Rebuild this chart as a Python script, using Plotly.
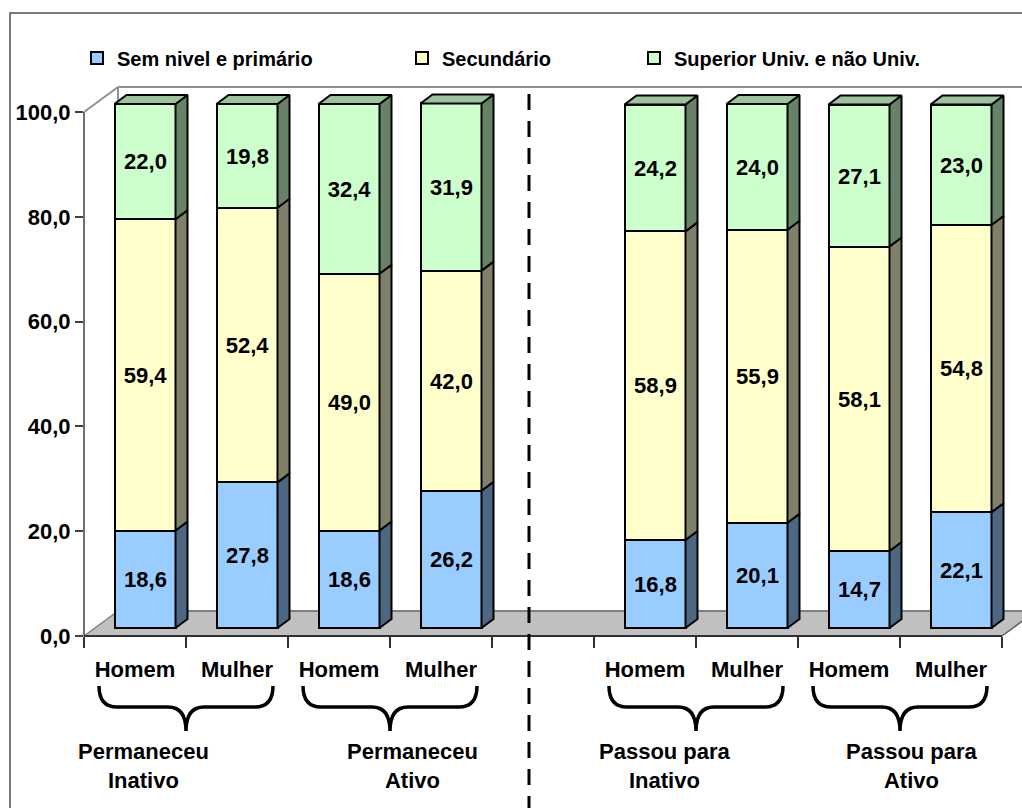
import plotly.graph_objects as go

# ---------------- data ----------------
categories = ["Homem", "Mulher", "Homem", "Mulher", "Homem", "Mulher", "Homem", "Mulher"]
groups = ["Permaneceu<br>Inativo", "Permaneceu<br>Ativo", "Passou para<br>Inativo", "Passou para<br>Ativo"]
series_names = ["Sem nivel e primário", "Secundário", "Superior Univ. e não Univ."]
sem_nivel = [18.6, 27.8, 18.6, 26.2, 16.8, 20.1, 14.7, 22.1]
secundario = [59.4, 52.4, 49.0, 42.0, 58.9, 55.9, 58.1, 54.8]
superior = [22.0, 19.8, 32.4, 31.9, 24.2, 24.0, 27.1, 23.0]
y_ticks = [0, 20, 40, 60, 80, 100]

# ---------------- styling / geometry ----------------
W, H = 1022, 808
FONT = "Liberation Sans, Arial, sans-serif"
front_cols = ["#99CCFF", "#FFFFCC", "#CCFFCC"]
side_cols = ["#4D6682", "#80806A", "#688268"]
top_col = "#9CC49C"

AX_X0 = 84.0      # px of front axis (slot boundary -0.5)
SLOT = 102.0      # px per category slot
AX_Y0 = 636.0     # px of value 0 on front axis
PXU = 5.24        # px per percentage unit
WALL_D = (34.0, -25.0)   # wall depth offset (px)
BAR_SHIFT = (10.0, -8.0)  # bar front face offset from front axis (px)
BAR_D = (12.0, -9.0)      # bar depth (px)
BAR_W = 61.0 / SLOT

n_slots = len(categories) + 1  # one empty slot between the two halves
positions = [i + (1 if i >= len(categories) // 2 else 0) for i in range(len(categories))]

x_range = [-0.5, -0.5 + (W - AX_X0) / SLOT]
y_top_px = 60.0
y_range = [0, (AX_Y0 - y_top_px) / PXU]
x2_range = [v - BAR_SHIFT[0] / SLOT for v in x_range]
y2_range = [v + BAR_SHIFT[1] / PXU for v in y_range]


def P(xp, yp):
    return xp / W, 1 - yp / H


def xpx(v):
    return AX_X0 + (v + 0.5) * SLOT


fig = go.Figure()

# empty trace so that the front (tick) axes are drawn
fig.add_trace(go.Scatter(x=[], y=[], xaxis="x", yaxis="y", showlegend=False, hoverinfo="skip"))

# ---------------- bars (front faces) ----------------
series = [sem_nivel, secundario, superior]
legends = ["legend", "legend2", "legend3"]
for name, vals, col, lg in zip(series_names, series, front_cols, legends):
    fig.add_trace(go.Bar(
        x=positions, y=vals, name=name, width=BAR_W,
        marker=dict(color=col, line=dict(color="black", width=2)),
        texttemplate="%{y:.1f}", textposition="inside", insidetextanchor="middle",
        textangle=0, textfont=dict(family=FONT, size=22, color="black", weight="bold"),
        xaxis="x2", yaxis="y2", legend=lg, hoverinfo="skip",
    ))

# ---------------- 3D side and top faces ----------------
ddx = BAR_D[0] / SLOT
ddy = -BAR_D[1] / PXU
for k, col in enumerate(side_cols):
    xs, ys = [], []
    for i, p in enumerate(positions):
        base = sum(series[j][i] for j in range(k))
        top = base + series[k][i]
        xr = p + BAR_W / 2
        xs += [xr, xr + ddx, xr + ddx, xr, xr, None]
        ys += [base, base + ddy, top + ddy, top, base, None]
    fig.add_trace(go.Scatter(x=xs, y=ys, mode="lines", fill="toself", fillcolor=col,
                             line=dict(color="black", width=2), xaxis="x2", yaxis="y2",
                             showlegend=False, hoverinfo="skip"))
xs, ys = [], []
for i, p in enumerate(positions):
    top = sum(series[j][i] for j in range(3))
    xl, xr = p - BAR_W / 2, p + BAR_W / 2
    xs += [xl, xr, xr + ddx, xl + ddx, xl, None]
    ys += [top, top, top + ddy, top + ddy, top, None]
fig.add_trace(go.Scatter(x=xs, y=ys, mode="lines", fill="toself", fillcolor=top_col,
                         line=dict(color="black", width=2), xaxis="x2", yaxis="y2",
                         showlegend=False, hoverinfo="skip"))

# ---------------- walls, floor, axis decorations ----------------
shapes = []
x_end = xpx(n_slots - 0.5)
fl = [(AX_X0, AX_Y0), (x_end, AX_Y0), (x_end + WALL_D[0], AX_Y0 + WALL_D[1]),
      (AX_X0 + WALL_D[0], AX_Y0 + WALL_D[1])]
path = "M " + " L ".join("%.5f,%.5f" % P(*pt) for pt in fl) + " Z"
shapes.append(dict(type="path", xref="paper", yref="paper", path=path,
                   fillcolor="#C0C0C0", line=dict(width=0), layer="below"))


def seg(a, b, color, width, dash=None, layer="below"):
    x0, y0 = P(*a)
    x1, y1 = P(*b)
    ln = dict(color=color, width=width)
    if dash:
        ln["dash"] = dash
    return dict(type="line", xref="paper", yref="paper", x0=x0, y0=y0, x1=x1, y1=y1,
                line=ln, layer=layer)


top100 = AX_Y0 - 100 * PXU
bx, by = AX_X0 + WALL_D[0], top100 + WALL_D[1]
shapes += [
    seg((AX_X0 + WALL_D[0], AX_Y0 + WALL_D[1]), (W + 20, AX_Y0 + WALL_D[1]), "#808080", 2),
    seg((AX_X0, AX_Y0), (AX_X0 + WALL_D[0], AX_Y0 + WALL_D[1]), "#808080", 1.5),
    seg((x_end, AX_Y0), (x_end + WALL_D[0], AX_Y0 + WALL_D[1]), "#606060", 1.5),
    seg((AX_X0, top100), (bx, by), "#909090", 2),
    seg((bx, by), (W + 20, by), "#909090", 2),
    seg((bx, by), (bx, AX_Y0 + WALL_D[1]), "#909090", 2),
    seg((AX_X0, AX_Y0), (x_end, AX_Y0), "#303030", 2),
    seg((AX_X0, top100), (AX_X0, AX_Y0), "#404040", 1.5),
]

# outer frame
fx0, fy0 = P(10, 13)
shapes.append(dict(type="rect", xref="paper", yref="paper", x0=fx0, y0=fy0, x1=1.05, y1=-0.05,
                   line=dict(color="#505050", width=1.5), layer="below"))

# dashed separator in the empty slot
sep_x = xpx(len(categories) // 2) - 14
shapes.append(seg((sep_x, 94), (sep_x, H + 5), "black", 3, dash="16px,11px", layer="above"))

# braces under each pair
def brace(xl, xr, xc, yt=686, ym=707, yb=731):
    pts = [("M", xl, yt), ("Q", xl, ym, xl + 18, ym), ("L", xc - 18, ym),
           ("Q", xc, ym, xc, yb), ("Q", xc, ym, xc + 18, ym), ("L", xr - 18, ym),
           ("Q", xr, ym, xr, yt)]
    out = []
    for p in pts:
        cmd, coords = p[0], p[1:]
        cs = []
        for j in range(0, len(coords), 2):
            cs.append("%.5f,%.5f" % P(coords[j], coords[j + 1]))
        out.append(cmd + " " + " ".join(cs))
    return " ".join(out)


label_px = [143, 412, 665, 912]
annotations = []
for g in range(len(groups)):
    a, b = positions[2 * g], positions[2 * g + 1]
    xl, xr = xpx(a) - 36, xpx(b) + 36
    xc = (xpx(a) + xpx(b)) / 2
    shapes.append(dict(type="path", xref="paper", yref="paper", path=brace(xl, xr, xc),
                       line=dict(color="black", width=3.5), layer="above"))
    lx, ly = P(label_px[g], 766)
    annotations.append(dict(text=groups[g], x=lx, y=ly, xref="paper", yref="paper",
                            showarrow=False, xanchor="center", yanchor="middle",
                            font=dict(family=FONT, size=22, color="black", weight="bold")))

# ---------------- layout ----------------
leg_x_px = [77, 402, 634]
leg_common = dict(orientation="h", yanchor="middle", xanchor="left", bgcolor="rgba(0,0,0,0)",
                  font=dict(family=FONT, size=20, color="black", weight="bold"),
                  borderwidth=0)

fig.update_layout(
    width=W, height=H, margin=dict(l=0, r=0, t=0, b=0, pad=0, autoexpand=False),
    paper_bgcolor="white", plot_bgcolor="rgba(0,0,0,0)",
    barmode="stack", separators=",.", bargap=0,
    font=dict(family=FONT, size=22, color="black"),
    legend=dict(x=leg_x_px[0] / W, y=1 - 58 / H, **leg_common),
    legend2=dict(x=leg_x_px[1] / W, y=1 - 58 / H, **leg_common),
    legend3=dict(x=leg_x_px[2] / W, y=1 - 58 / H, **leg_common),
    xaxis=dict(domain=[AX_X0 / W, 1], range=x_range, anchor="y", automargin=False,
               tickmode="array", tickvals=positions, ticktext=categories,
               ticks="", showgrid=False, zeroline=False, showline=False,
               tickfont=dict(family=FONT, size=22, color="black", weight="bold"),
               ticklabelstandoff=18,
               minor=dict(tickmode="array", tickvals=[i - 0.5 for i in range(n_slots + 1)],
                          ticks="outside", ticklen=11, tickcolor="#303030", tickwidth=1.5,
                          showgrid=False)),
    yaxis=dict(domain=[1 - AX_Y0 / H, 1 - y_top_px / H], range=y_range, anchor="x",
               automargin=False,
               tickmode="array", tickvals=y_ticks, tickformat=".1f",
               ticks="outside", ticklen=8, tickcolor="#404040", tickwidth=1.5,
               showgrid=False, zeroline=False, showline=False,
               tickfont=dict(family=FONT, size=22, color="black", weight="bold")),
    xaxis2=dict(overlaying="x", anchor="y2", range=x2_range, visible=False, automargin=False),
    yaxis2=dict(overlaying="y", anchor="x2", range=y2_range, visible=False, automargin=False),
    shapes=shapes, annotations=annotations,
)

fig.write_html("out.html")
